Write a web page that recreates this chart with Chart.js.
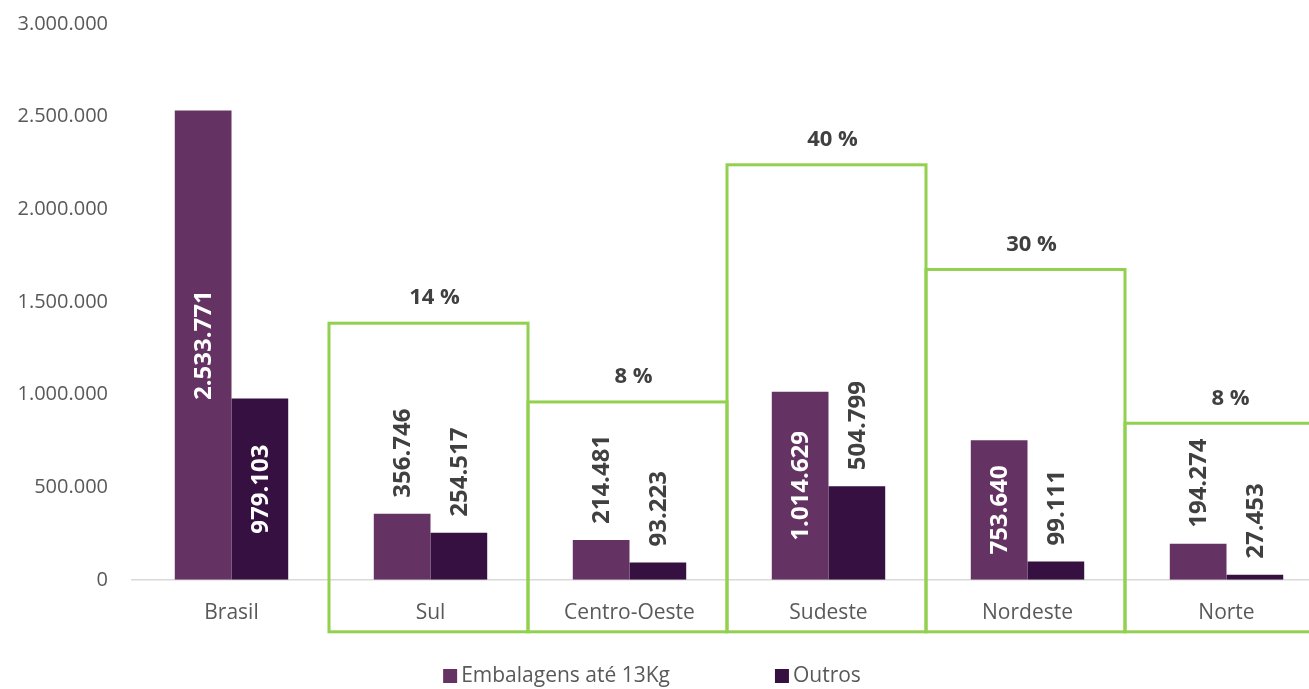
<!DOCTYPE html>
<html lang="pt-BR">
  <head>
    <meta charset="UTF-8" />
    <meta name="viewport" content="width=device-width, initial-scale=1.0" />
    <script src="https://cdn.jsdelivr.net/npm/chart.js@4.4.1/dist/chart.umd.min.js"></script>
    <title>Embalagens por região</title>
    <style>
      html, body { margin: 0; padding: 0; background: #fff; overflow: hidden; }
      #wrap { width: 1330px; height: 689px; }
    </style>
  </head>
  <body>
    <div id="wrap"><canvas id="myChart"></canvas></div>
    <script>
      const regions = ["Brasil", "Sul", "Centro-Oeste", "Sudeste", "Nordeste", "Norte"];
      const embalagens = [2533771, 356746, 214481, 1014629, 753640, 194274];
      const outros = [979103, 254517, 93223, 504799, 99111, 27453];
      // share of each region (%) and top of the green frame around it
      const shares = [null, 14, 8, 40, 30, 8];
      const boxTops = [null, 1385000, 960000, 2240000, 1675000, 845000];

      const fmt = (n) => n.toString().replace(/\B(?=(\d{3})+(?!\d))/g, ".");
      const FONT = '"Open Sans", sans-serif';

      // vertical value labels: inside the bar when it fits, otherwise above it
      const barLabels = {
        id: "barLabels",
        afterDatasetsDraw(chart) {
          const ctx = chart.ctx;
          ctx.save();
          ctx.font = "bold 24px " + FONT;
          ctx.textBaseline = "middle";
          chart.data.datasets.forEach((ds, di) => {
            chart.getDatasetMeta(di).data.forEach((bar, i) => {
              const text = fmt(ds.data[i]);
              const w = ctx.measureText(text).width;
              const h = bar.base - bar.y;
              ctx.save();
              if (h > w + 20) {
                ctx.translate(bar.x, (bar.y + bar.base) / 2);
                ctx.rotate(-Math.PI / 2);
                ctx.textAlign = "center";
                ctx.fillStyle = "#ffffff";
              } else {
                ctx.translate(bar.x, bar.y - 16);
                ctx.rotate(-Math.PI / 2);
                ctx.textAlign = "left";
                ctx.fillStyle = "#404040";
              }
              ctx.fillText(text, 0, 1);
              ctx.restore();
            });
          });
          ctx.restore();
        },
      };

      // green frames around the regions with their share on top
      const regionBoxes = {
        id: "regionBoxes",
        afterDraw(chart) {
          const { ctx, chartArea } = chart;
          const x = chart.scales.x, y = chart.scales.y;
          const step = x.getPixelForValue(1) - x.getPixelForValue(0);
          ctx.save();
          ctx.strokeStyle = "#92D050";
          ctx.lineWidth = 3;
          ctx.fillStyle = "#404040";
          ctx.font = "bold 22px " + FONT;
          ctx.textAlign = "center";
          ctx.textBaseline = "middle";
          boxTops.forEach((v, i) => {
            if (v == null) return;
            const cx = x.getPixelForValue(i);
            const left = cx - step / 2 - 2;
            const right = cx + step / 2 - 2;
            const top = y.getPixelForValue(v);
            const bottom = chartArea.bottom + 52;
            ctx.strokeRect(left, top, right - left, bottom - top);
            ctx.fillText(shares[i] + " %", cx + 4, top - 25);
          });
          ctx.restore();
        },
      };

      // legend at the bottom, wide gap between the two items
      const bottomLegend = {
        id: "bottomLegend",
        afterDraw(chart) {
          const ctx = chart.ctx;
          ctx.save();
          ctx.font = "21px " + FONT;
          ctx.textBaseline = "middle";
          const items = chart.data.datasets.map((d) => ({
            label: d.label,
            color: d.backgroundColor,
            w: 18 + ctx.measureText(d.label).width,
          }));
          const gap = 105;
          const total = items.reduce((s, it) => s + it.w, 0) + gap * (items.length - 1);
          let px = 652 - total / 2;
          const cy = 676;
          items.forEach((it) => {
            ctx.fillStyle = it.color;
            ctx.fillRect(px, cy - 7, 14, 14);
            ctx.fillStyle = "#595959";
            ctx.fillText(it.label, px + 18, cy);
            px += it.w + gap;
          });
          ctx.restore();
        },
      };

      const ctx = document.getElementById("myChart").getContext("2d");
      const myChart = new Chart(ctx, {
        type: "bar",
        data: {
          labels: regions,
          datasets: [
            {
              label: "Embalagens até 13Kg",
              data: embalagens,
              backgroundColor: "#643263",
              borderWidth: 0,
            },
            {
              label: "Outros",
              data: outros,
              backgroundColor: "#351041",
              borderWidth: 0,
            },
          ],
        },
        options: {
          responsive: true,
          maintainAspectRatio: false,
          animation: false,
          layout: { padding: { top: 24, right: 4, bottom: 42, left: 0 } },
          datasets: { bar: { categoryPercentage: 0.57, barPercentage: 1 } },
          plugins: {
            legend: { display: false },
            tooltip: { enabled: false },
          },
          scales: {
            x: {
              grid: { display: false, drawTicks: false },
              border: { display: true, color: "#d9d9d9", width: 1.5 },
              ticks: { color: "#595959", font: { family: FONT, size: 21 }, padding: 21 },
            },
            y: {
              min: 0,
              max: 3000000,
              grid: { display: false, drawTicks: false },
              border: { display: false },
              ticks: {
                stepSize: 500000,
                color: "#595959",
                font: { family: FONT, size: 20 },
                padding: 24,
                callback: (v) => fmt(v),
              },
              afterFit: (s) => {
                s.width = 132;
                s.paddingTop = 0;
                s.paddingBottom = 0;
              },
            },
          },
        },
        plugins: [barLabels, regionBoxes, bottomLegend],
      });
    </script>
  </body>
</html>
